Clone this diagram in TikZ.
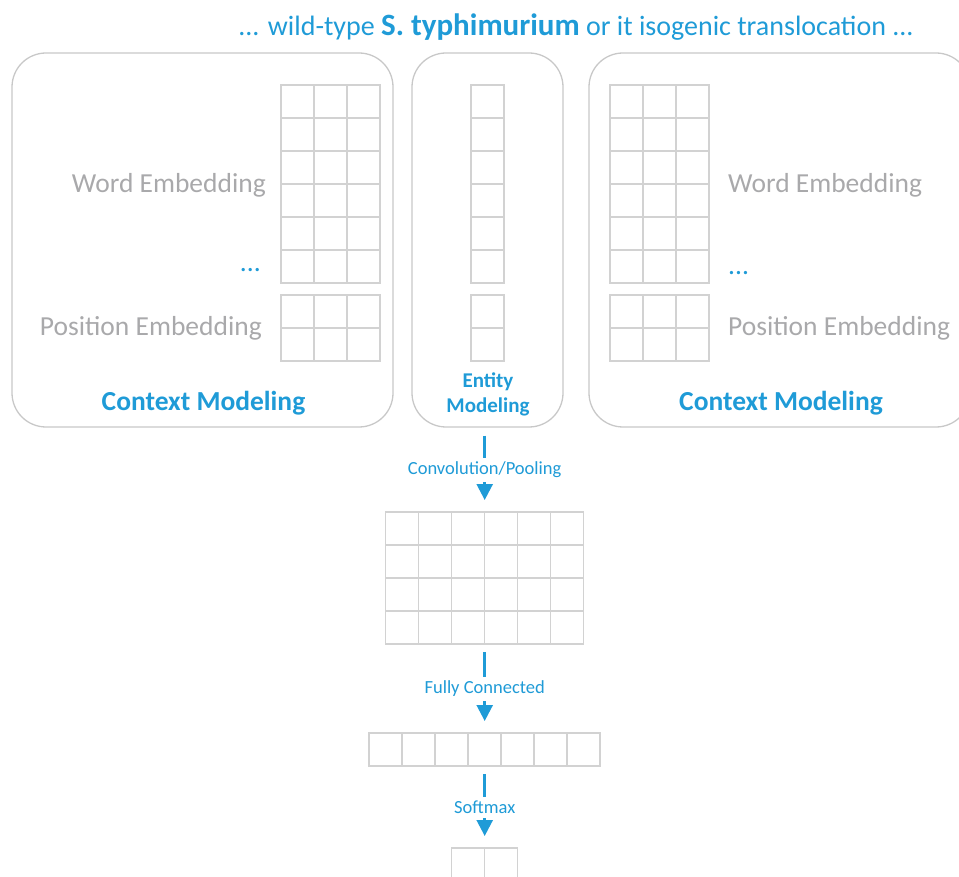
\documentclass[tikz,border=0pt]{standalone}
\usepackage{fontspec}
\setmainfont{Carlito}
\usepackage{tikz}
\usetikzlibrary{arrows.meta}
\usetikzlibrary{calc}
\definecolor{skyblue}{HTML}{1F9BD7}
\definecolor{txtgray}{HTML}{A9A9AB}
\definecolor{cellgray}{HTML}{D2D2D2}
\definecolor{boxgray}{HTML}{C8C8C8}
\newcommand{\cells}[5]{%
\node[inner sep=0pt,minimum width=#4*33pt,minimum height=#5*33pt,anchor=north west] (#1) at (#2,#3) {};
\foreach \i in {1,...,#4} \foreach \j in {1,...,#5} \draw[cell] ({#2+33*(\i-1)},{#3+33*(\j-1)}) rectangle +(33,33);
}

\begin{document}
\begin{tikzpicture}[x=1pt,y=-1pt,
panel/.style={draw=boxgray,line width=1.3pt,rounded corners=34pt,minimum height=374pt,inner sep=0pt},
cell/.style={draw=cellgray,line width=1.6pt},
gtext/.style={text=txtgray,inner sep=0pt,font=\fontsize{27.5}{33}\selectfont},
btext/.style={text=skyblue,inner sep=0pt,font=\fontsize{27.5}{33}\selectfont\bfseries},
dots/.style={text=skyblue,inner sep=0pt,font=\fontsize{27.5}{33}\selectfont},
flow/.style={draw=skyblue,line width=2.5pt,-{Triangle[width=16pt,length=16pt]},shorten <=8pt,shorten >=12pt},
lbl/.style={fill=white,text=skyblue,inner xsep=2pt,inner ysep=4pt,font=\fontsize{18.5}{22}\selectfont}]
\useasboundingbox (0,0) rectangle (959,877);
\node[text=skyblue,anchor=base,inner sep=0pt,font=\fontsize{28}{32}\selectfont] (sent) at (576,36)
  {... wild-type {\fontsize{31}{34}\selectfont\bfseries S. typhimurium} or it isogenic translocation ...};
\node[panel,minimum width=381pt] (ctxL) at (202.5,240) {};
\node[panel,minimum width=151pt] (ent) at (487.5,240) {};
\node[panel,minimum width=381pt] (ctxR) at (779.5,240) {};
\cells{wordL}{281}{85}{3}{6}
\cells{posL}{281}{295}{3}{2}
\cells{wordE}{471}{85}{1}{6}
\cells{posE}{471}{295}{1}{2}
\cells{wordR}{610}{85}{3}{6}
\cells{posR}{610}{295}{3}{2}
\cells{conv}{385.5}{512}{6}{4}
\cells{fc}{369}{733}{7}{1}
\cells{out}{451.5}{848}{2}{1}
\node[gtext,anchor=base east] (wdL) at (266,193) {Word Embedding};
\node[dots,anchor=base east] (dotL) at (261,272) {...};
\node[gtext,anchor=base east] (psL) at (262,336) {Position Embedding};
\node[btext,anchor=base] (ctxLt) at (203.5,410) {Context Modeling};
\node[gtext,anchor=base west] (wdR) at (728,193) {Word Embedding};
\node[dots,anchor=base west] (dotR) at (728,275) {...};
\node[gtext,anchor=base west] (psR) at (728,336) {Position Embedding};
\node[btext,anchor=base] (ctxRt) at (781,410) {Context Modeling};
\node[btext,anchor=base,align=center,font=\fontsize{21}{25}\selectfont\bfseries] (entt) at (488,413) {Entity\\Modeling};
\draw[flow] (ent.south -| conv.north) -- (conv.north) node[lbl,midway] {Convolution/Pooling};
\draw[flow] (conv.south) -- (fc.north) node[lbl,midway] {Fully Connected};
\draw[flow] (fc.south) -- (out.north) node[lbl,midway] {Softmax};
\end{tikzpicture}
\end{document}
